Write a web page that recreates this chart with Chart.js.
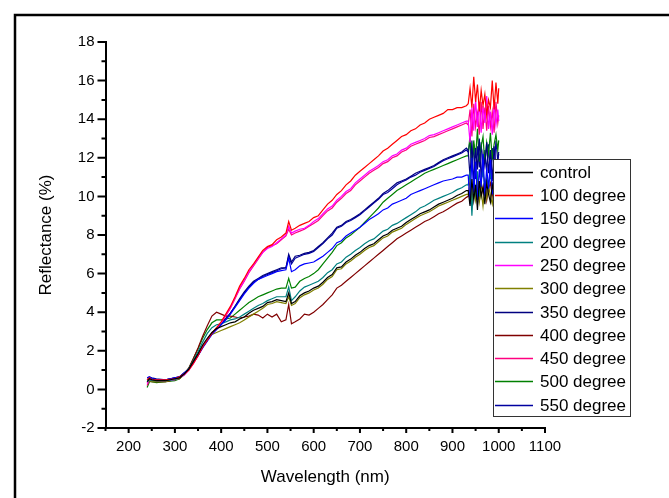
<!DOCTYPE html>
<html>
<head>
<meta charset="utf-8">
<script src="https://cdn.jsdelivr.net/npm/chart.js@4/dist/chart.umd.min.js"></script>
<style>
html,body{margin:0;padding:0;background:#fff;}
canvas{display:block;}
</style>
</head>
<body>
<canvas id="c" width="669" height="498" style="width:669px;height:498px"></canvas>
<script>
const wavelength = [240,245,250,260,280,300,310,320,330,340,
 350,360,370,380,390,400,410,420,430,440,
 450,460,470,480,490,500,510,520,530,540,
 546,552,560,570,580,590,600,610,620,630,
 640,650,660,670,680,690,700,710,720,730,
 740,750,760,770,780,790,800,810,820,830,
 840,850,860,870,880,890,900,910,920,930,
 934,938,942,946,950,954,958,962,966,970,974,978,982,986,990,994,998,1000];

const seriesNames = ['control','100 degree','150 degree','200 degree','250 degree','300 degree','350 degree','400 degree','450 degree','500 degree','550 degree'];

const control = [0.4,0.55,0.5,0.45,0.45,0.55,0.6,0.8,1.05,1.45,
 1.85,2.3,2.65,2.95,3.15,3.25,3.35,3.45,3.5,3.65,
 3.75,3.95,4.1,4.2,4.3,4.5,4.55,4.65,4.6,4.55,
 5.0,4.45,4.55,4.85,5.0,5.1,5.25,5.35,5.55,5.8,
 5.95,6.3,6.35,6.6,6.75,6.95,7.1,7.3,7.45,7.55,
 7.75,7.95,8.05,8.25,8.35,8.45,8.65,8.8,8.95,9.1,
 9.2,9.3,9.45,9.6,9.7,9.8,9.9,10.05,10.15,10.3,
 10.3,9.5,10.9,9.8,10.6,9.3,10.8,10.0,10.5,9.6,10.7,10.1,9.7,10.6,10.2,9.9,10.5,10.3];
const deg100 = [0.5,0.6,0.5,0.5,0.5,0.55,0.65,0.8,1.0,1.35,
 1.75,2.2,2.55,2.9,3.2,3.5,3.9,4.3,4.8,5.35,
 5.75,6.2,6.5,6.85,7.2,7.4,7.5,7.75,7.9,8.1,
 8.7,8.25,8.35,8.5,8.6,8.7,8.9,9.0,9.3,9.6,
 9.8,10.1,10.3,10.6,10.8,11.1,11.3,11.5,11.7,11.9,
 12.1,12.35,12.5,12.7,12.9,13.1,13.2,13.4,13.5,13.7,
 13.8,14.0,14.1,14.2,14.3,14.5,14.5,14.6,14.6,14.7,
 14.8,15.6,14.6,16.2,14.9,15.8,14.4,15.5,14.7,15.3,14.2,15.0,14.6,16.0,14.5,15.9,14.8,15.6];
const deg150 = [0.6,0.65,0.55,0.5,0.5,0.6,0.65,0.85,1.05,1.4,
 1.75,2.15,2.5,2.85,3.1,3.35,3.6,3.9,4.25,4.6,
 4.95,5.25,5.5,5.7,5.8,5.9,6.0,6.1,6.15,6.2,
 6.8,6.1,6.2,6.4,6.5,6.55,6.6,6.75,6.9,7.1,
 7.3,7.6,7.7,7.95,8.1,8.25,8.4,8.6,8.8,8.95,
 9.1,9.3,9.4,9.6,9.7,9.8,9.9,10.1,10.2,10.3,
 10.4,10.5,10.6,10.7,10.8,10.85,10.9,11.0,11.0,11.1,
 11.1,9.6,12.0,10.2,11.8,9.8,11.4,10.5,12.2,10.0,11.5,10.4,11.9,10.1,11.3,10.6,11.7,10.9];
const deg200 = [0.4,0.5,0.45,0.45,0.45,0.5,0.6,0.8,1.05,1.5,
 1.95,2.45,2.9,3.2,3.35,3.4,3.5,3.6,3.65,3.75,
 3.9,4.05,4.2,4.35,4.45,4.6,4.7,4.8,4.8,4.8,
 5.3,4.6,4.8,5.1,5.3,5.4,5.5,5.6,5.8,6.05,
 6.2,6.5,6.6,6.85,7.0,7.2,7.35,7.55,7.7,7.8,
 8.0,8.2,8.3,8.5,8.6,8.75,8.9,9.05,9.2,9.4,
 9.5,9.65,9.8,9.9,10.0,10.1,10.2,10.35,10.45,10.6,
 10.6,11.2,9.0,10.9,10.2,11.3,10.0,10.8,11.4,10.3,11.0,10.5,11.2,10.4,10.9,11.1,10.6,10.8];
const deg250 = [0.3,0.55,0.5,0.45,0.45,0.5,0.6,0.75,1.0,1.35,
 1.75,2.2,2.55,2.9,3.15,3.45,3.85,4.25,4.75,5.25,
 5.65,6.1,6.45,6.8,7.1,7.3,7.4,7.6,7.8,8.0,
 8.45,8.1,8.2,8.3,8.35,8.5,8.7,8.85,9.1,9.35,
 9.5,9.8,10.0,10.25,10.4,10.7,10.9,11.1,11.3,11.45,
 11.6,11.8,11.9,12.1,12.2,12.4,12.5,12.7,12.8,12.9,
 13.0,13.15,13.2,13.3,13.4,13.5,13.6,13.7,13.8,13.9,
 13.9,12.8,14.6,13.4,15.0,13.6,14.9,13.3,14.7,13.8,15.2,13.5,14.4,13.2,14.8,13.7,14.5,13.9];
const deg300 = [0.35,0.45,0.4,0.4,0.4,0.5,0.55,0.75,1.05,1.45,
 1.8,2.2,2.55,2.85,2.95,3.05,3.15,3.25,3.35,3.45,
 3.6,3.75,3.9,4.05,4.2,4.4,4.45,4.55,4.5,4.45,
 4.8,4.35,4.45,4.75,4.9,5.0,5.15,5.25,5.45,5.7,
 5.85,6.2,6.25,6.5,6.65,6.85,7.0,7.2,7.35,7.45,
 7.65,7.85,7.95,8.15,8.25,8.35,8.55,8.7,8.85,9.0,
 9.1,9.2,9.35,9.5,9.6,9.7,9.8,9.9,10.0,10.1,
 10.1,10.6,9.6,10.4,9.8,10.7,9.7,10.3,9.5,10.5,9.9,10.6,10.0,9.6,10.4,10.1,9.7,10.2];
const deg350 = [0.5,0.6,0.55,0.5,0.5,0.6,0.65,0.85,1.05,1.4,
 1.8,2.2,2.55,2.9,3.15,3.4,3.65,3.95,4.3,4.7,
 5.05,5.35,5.6,5.75,5.9,6.0,6.1,6.2,6.3,6.3,
 7.0,6.6,6.9,6.95,7.05,7.1,7.2,7.4,7.6,7.85,
 8.1,8.4,8.5,8.7,8.8,8.95,9.1,9.3,9.5,9.7,
 9.9,10.15,10.3,10.5,10.7,10.8,10.9,11.05,11.2,11.3,
 11.4,11.5,11.6,11.75,11.9,12.0,12.1,12.2,12.3,12.5,
 12.4,11.0,12.9,10.6,12.5,11.4,13.0,10.9,12.2,11.6,12.8,11.2,12.4,10.8,12.6,11.5,12.0,12.3];
const deg400 = [0.35,0.45,0.4,0.4,0.4,0.5,0.55,0.8,1.1,1.6,
 2.15,2.75,3.3,3.8,4.0,3.9,3.8,3.8,3.75,3.7,
 3.75,3.8,3.9,3.85,3.7,3.9,3.75,3.9,3.5,3.6,
 4.4,3.4,3.5,3.65,3.9,3.85,4.0,4.2,4.4,4.65,
 4.9,5.25,5.4,5.6,5.8,6.0,6.2,6.4,6.6,6.8,
 7.0,7.2,7.4,7.6,7.8,7.95,8.1,8.25,8.4,8.55,
 8.7,8.8,8.95,9.1,9.2,9.35,9.5,9.65,9.75,9.95,
 10.0,10.8,9.7,10.5,10.1,10.9,9.9,10.6,10.2,10.8,9.8,10.4,10.7,10.0,10.5,10.9,10.2,10.4];
const deg450 = [0.2,0.5,0.45,0.45,0.45,0.5,0.6,0.75,1.0,1.35,
 1.75,2.2,2.55,2.9,3.1,3.4,3.8,4.2,4.7,5.2,
 5.6,6.05,6.4,6.75,7.1,7.35,7.45,7.55,7.75,7.95,
 8.3,8.0,8.1,8.2,8.3,8.45,8.6,8.75,9.0,9.25,
 9.4,9.7,9.9,10.15,10.3,10.6,10.8,11.0,11.2,11.35,
 11.5,11.7,11.8,12.0,12.1,12.3,12.4,12.6,12.7,12.8,
 12.9,13.05,13.1,13.2,13.3,13.4,13.5,13.6,13.7,13.8,
 13.7,14.5,13.1,14.8,13.6,14.3,13.2,14.9,13.5,14.6,13.4,14.7,13.6,14.4,13.3,14.9,13.8,14.2];
const deg500 = [0.1,0.4,0.4,0.35,0.4,0.45,0.55,0.8,1.1,1.6,
 2.1,2.65,3.1,3.45,3.6,3.6,3.65,3.7,3.9,4.1,
 4.3,4.5,4.65,4.8,4.9,5.0,5.1,5.2,5.25,5.25,
 5.75,5.25,5.3,5.6,5.75,5.85,6.0,6.2,6.5,6.8,
 7.1,7.45,7.6,7.85,8.0,8.2,8.4,8.65,8.9,9.15,
 9.4,9.7,9.9,10.1,10.3,10.45,10.6,10.75,10.9,11.05,
 11.2,11.3,11.4,11.5,11.6,11.7,11.8,11.9,12.0,12.1,
 12.1,13.2,11.4,12.9,12.0,13.5,11.8,12.6,13.1,11.7,12.8,12.2,13.3,11.9,12.7,13.2,12.4,12.9];
const deg550 = [0.6,0.65,0.6,0.55,0.5,0.6,0.65,0.85,1.05,1.4,
 1.8,2.2,2.55,2.9,3.15,3.4,3.65,3.95,4.3,4.65,
 5.0,5.3,5.55,5.7,5.85,5.95,6.05,6.15,6.25,6.3,
 6.9,6.5,6.8,6.9,7.0,7.05,7.15,7.35,7.55,7.8,
 8.0,8.35,8.45,8.65,8.75,8.9,9.05,9.25,9.45,9.65,
 9.85,10.1,10.2,10.4,10.6,10.75,10.85,11.0,11.1,11.25,
 11.35,11.45,11.55,11.7,11.85,11.95,12.05,12.15,12.25,12.4,
 12.3,12.9,11.3,12.7,10.9,12.6,11.5,12.8,11.0,12.4,11.3,12.7,10.9,12.5,11.4,12.9,11.8,12.2];

const xMajorTicks = [200,300,400,500,600,700,800,900,1000,1100];
const xMinorTicks = [150,250,350,450,550,650,750,850,950,1050];
const yMajorTicks = [-2,0,2,4,6,8,10,12,14,16,18];
const yMinorTicks = [-1,1,3,5,7,9,11,13,15,17];

const seriesValues = [control,deg100,deg150,deg200,deg250,deg300,deg350,deg400,deg450,deg500,deg550];
const seriesColors = ['#000000','#ff0000','#0000ff','#008080','#ff00ff','#808000','#000080','#800000','#ff0080','#008000','#0000a0'];

const FONT = "'Liberation Sans', Arial, sans-serif";

const framePlugin = {
  id: 'frame',
  beforeDraw(chart) {
    const ctx = chart.ctx;
    ctx.save();
    ctx.fillStyle = '#fff';
    ctx.fillRect(0, 0, chart.width, chart.height);
    ctx.strokeStyle = '#000';
    ctx.lineWidth = 2.5;
    ctx.strokeRect(15, 15, 700, 600);
    ctx.restore();
  }
};

const tickPlugin = {
  id: 'ticks',
  afterDraw(chart) {
    const ctx = chart.ctx;
    const xs = chart.scales.x, ys = chart.scales.y;
    const ax = chart.chartArea.left, ay = chart.chartArea.bottom;
    ctx.save();
    ctx.strokeStyle = '#000';
    ctx.lineWidth = 2;
    ctx.beginPath();
    xMajorTicks.forEach(v => { const p = xs.getPixelForValue(v); ctx.moveTo(p, ay); ctx.lineTo(p, ay + 5); });
    xMinorTicks.forEach(v => { const p = xs.getPixelForValue(v); ctx.moveTo(p, ay); ctx.lineTo(p, ay + 3); });
    yMajorTicks.forEach(v => { const p = ys.getPixelForValue(v); ctx.moveTo(ax, p); ctx.lineTo(ax - 8, p); });
    yMinorTicks.forEach(v => { const p = ys.getPixelForValue(v); ctx.moveTo(ax, p); ctx.lineTo(ax - 4, p); });
    ctx.stroke();
    ctx.restore();
  }
};

const legendPlugin = {
  id: 'boxLegend',
  afterDraw(chart) {
    const ctx = chart.ctx;
    const left = 493.5, top = 159.5, w = 137, h = 257;
    ctx.save();
    ctx.fillStyle = '#fff';
    ctx.fillRect(left, top, w, h);
    ctx.strokeStyle = '#333';
    ctx.lineWidth = 1;
    ctx.strokeRect(left, top, w, h);
    ctx.font = '17px ' + FONT;
    ctx.textBaseline = 'middle';
    ctx.textAlign = 'left';
    chart.data.datasets.forEach((ds, i) => {
      const y = Math.round(171.7 + 23.3 * i) + 0.5;
      ctx.strokeStyle = seriesColors[i];
      ctx.lineWidth = 1.5;
      ctx.beginPath();
      ctx.moveTo(495, y);
      ctx.lineTo(533, y);
      ctx.stroke();
      ctx.fillStyle = '#000';
      ctx.fillText(ds.label, 540, y + 1);
    });
    ctx.restore();
  }
};

new Chart(document.getElementById('c'), {
  type: 'line',
  data: {
    datasets: seriesNames.map((name, i) => ({
      label: name,
      data: wavelength.map((w, j) => ({x: w, y: seriesValues[i][j]})),
      borderColor: seriesColors[i],
      backgroundColor: seriesColors[i],
      borderWidth: 1.2,
      pointRadius: 0,
      fill: false,
      tension: 0
    }))
  },
  options: {
    responsive: false,
    animation: false,
    devicePixelRatio: 1,
    layout: {padding: {top: 42, right: 124, left: 0, bottom: 0}},
    plugins: {legend: {display: false}, tooltip: {enabled: false}},
    scales: {
      x: {
        type: 'linear', min: 150, max: 1100,
        afterBuildTicks: s => { s.ticks = xMajorTicks.map(v => ({value: v})); },
        afterFit: s => { s.height = 70; },
        grid: {display: false, drawTicks: false},
        border: {display: true, color: '#000', width: 2},
        ticks: {color: '#000', font: {family: FONT, size: 15}, padding: 10, maxRotation: 0, autoSkip: false, callback: v => String(v)},
        title: {display: true, text: 'Wavelength (nm)', color: '#000', font: {family: FONT, size: 17}, padding: {top: 0, bottom: 10}}
      },
      y: {
        type: 'linear', min: -2, max: 18,
        afterBuildTicks: s => { s.ticks = yMajorTicks.map(v => ({value: v})); },
        afterFit: s => { s.width = 105.5; },
        grid: {display: false, drawTicks: false},
        border: {display: true, color: '#000', width: 2},
        ticks: {color: '#000', font: {family: FONT, size: 15}, padding: 11, autoSkip: false, callback: v => String(v)},
        title: {display: true, text: 'Reflectance (%)', color: '#000', font: {family: FONT, size: 17}, padding: {top: 36, bottom: 0}}
      }
    }
  },
  plugins: [framePlugin, tickPlugin, legendPlugin]
});
</script>
</body>
</html>
